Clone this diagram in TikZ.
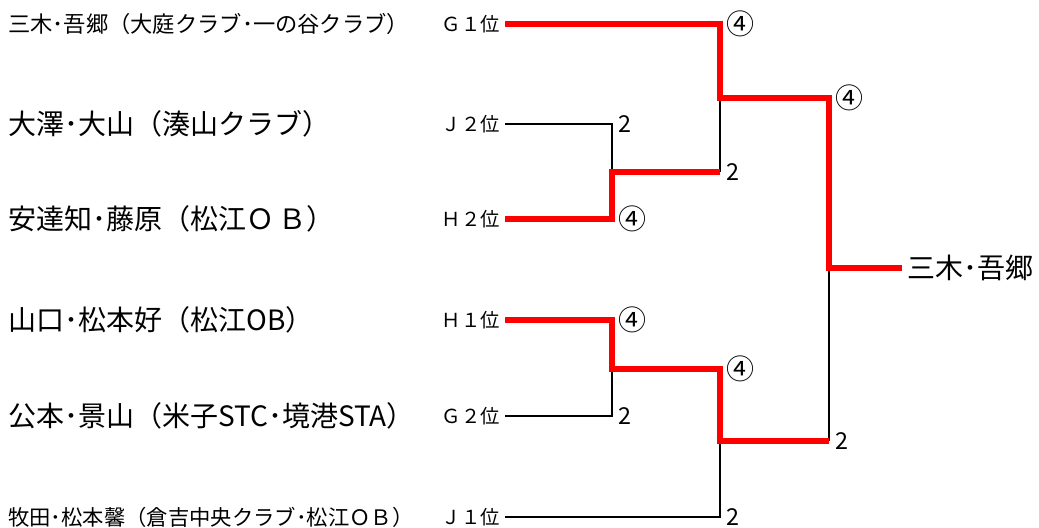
\documentclass[tikz,border=0pt]{standalone}
\usepackage{fontspec}
\setmainfont{Noto Sans CJK JP}
\usetikzlibrary{positioning}

\begin{document}
\begin{tikzpicture}[x=0.75pt,y=-0.75pt]
		\tikzset{team/.style = {anchor=west, inner sep=0pt, font=\fontsize{21}{25}\selectfont}}
		\tikzset{seed/.style = {anchor=east, inner sep=0pt, font=\fontsize{14.5}{17}\selectfont}}
		\tikzset{score/.style = {anchor=west, inner sep=0pt, font=\fontsize{17.5}{20}\selectfont}}
		\tikzset{circ/.style = {score, font=\fontsize{21}{24}\selectfont}}
		\tikzset{lose/.style = {draw=black, line width=1.6pt}}
		\tikzset{win/.style = {draw=red, line width=5.2pt, line join=miter}}

		\useasboundingbox (0,0) rectangle (1039,528);

		% teams
		\node[team, font=\fontsize{16.7}{20}\selectfont] (T1) at (8,24) {三木･吾郷（大庭クラブ･一の谷クラブ）};
		\node[team] (T2) at (8,124) {大澤･大山（湊山クラブ）};
		\node[team] (T3) at (8,219) {安達知･藤原（松江Ｏ\,Ｂ）};
		\node[team] (T4) at (8,320) {山口･松本好（松江OB）};
		\node[team] (T5) at (8,416) {公本･景山（米子STC･境港STA）};
		\node[team, font=\fontsize{16}{19}\selectfont] (T6) at (8,517) {牧田･松本馨（倉吉中央クラブ･松江ＯＢ）};

		% seeds
		\node[seed] (G1) at (500,24) {Ｇ１位};
		\node[seed] (J2) at (500,124) {Ｊ２位};
		\node[seed] (H2) at (500,219) {Ｈ２位};
		\node[seed] (H1) at (500,320) {Ｈ１位};
		\node[seed] (G2) at (500,416) {Ｇ２位};
		\node[seed] (J1) at (500,517) {Ｊ１位};

		% joints
		\coordinate (a1) at (612,124);
		\coordinate (a2) at (612,219);
		\coordinate (am) at (612,172);
		\coordinate (b1) at (612,320);
		\coordinate (b2) at (612,416);
		\coordinate (bm) at (612,369);
		\coordinate (c1) at (720,24);
		\coordinate (c2) at (720,172);
		\coordinate (cm) at (720,98);
		\coordinate (d1) at (720,369);
		\coordinate (d2) at (720,517);
		\coordinate (dm) at (720,441);
		\coordinate (e1) at (829,98);
		\coordinate (e2) at (829,441);
		\coordinate (em) at (829,268);

		\node[team] (W) at (907,268) {三木･吾郷};

		\draw[lose] ([xshift=4pt]J2.east) -- (a1) -- (am);
		\draw[lose] ([xshift=4pt]G2.east) -- (b2) -- (bm);
		\draw[lose] ([xshift=4pt]J1.east) -- (d2) -- (dm);
		\draw[lose] (c2) -- (cm);
		\draw[lose] (e2) -- (em);

		\draw[win] ([xshift=4pt]G1.east) -- (c1) -- (cm) -- (e1) -- (em) -- ([xshift=-4pt]W.west);
		\draw[win] ([xshift=4pt]H2.east) -- (a2) -- (am) -- (c2);
		\draw[win] ([xshift=4pt]H1.east) -- (b1) -- (bm) -- (d1) -- (dm) -- (e2);

		% scores
		\node[score] at ([xshift=5]a1) {2};
		\node[circ] at ([xshift=5]a2) {④};
		\node[circ] at ([xshift=5]b1) {④};
		\node[score] at ([xshift=5]b2) {2};
		\node[circ] at ([xshift=5]c1) {④};
		\node[score] at ([xshift=5]c2) {2};
		\node[circ] at ([xshift=5]d1) {④};
		\node[score] at ([xshift=5]d2) {2};
		\node[circ] at ([xshift=5]e1) {④};
		\node[score] at ([xshift=5]e2) {2};

	\end{tikzpicture}
\end{document}
